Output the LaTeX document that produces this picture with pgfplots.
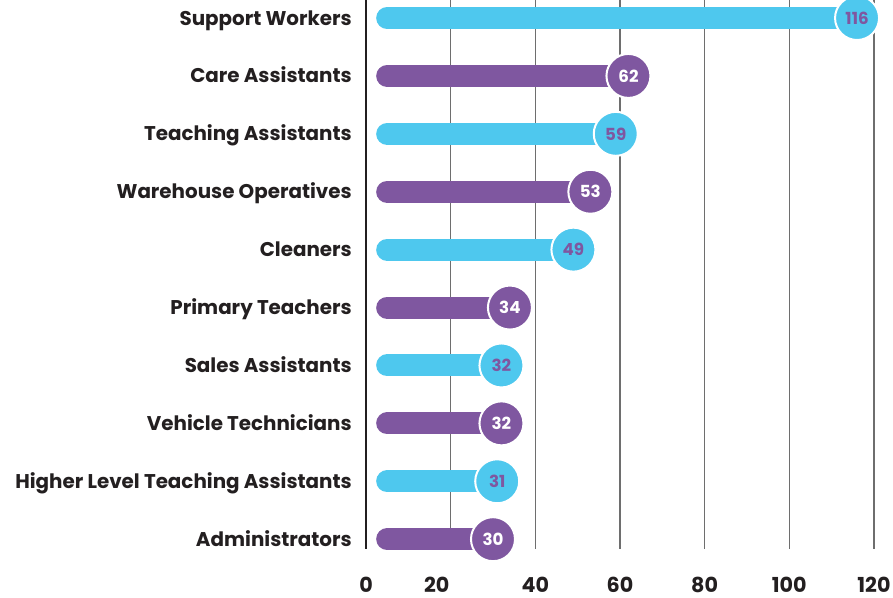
\documentclass[border=0pt]{standalone}
\usepackage{fontspec}
\setmainfont{Poppins}
\usepackage{pgfplots}
\pgfplotsset{compat=1.18}
\usetikzlibrary{calc}
\definecolor{cy}{HTML}{4EC8EE}
\definecolor{pu}{HTML}{7F57A0}
\definecolor{tx}{HTML}{231F20}
\definecolor{gr}{HTML}{6E6E6E}

\begin{document}
\begin{tikzpicture}
\begin{axis}[
    scale only axis,
    width=381pt, height=411.75pt,
    xmin=0, xmax=120,
    ymin=-0.311, ymax=9.17,
    y dir=reverse,
    clip=false,
    /pgf/number format/assume math mode=true,
    axis line style={draw=none},
    major tick length=0,
    xtick={0,20,...,120},
    xticklabels={,\hspace*{-21pt}20,40,60,80,100,120},
    extra x ticks={0},
    extra x tick labels={0},
    extra x tick style={grid style={tx, line width=0.9pt}},
    xmajorgrids,
    grid style={gr, line width=0.8pt},
    xticklabel style={font=\fontsize{15.5}{16}\selectfont\bfseries, text=tx,
        anchor=north, inner sep=0pt, text depth=0pt, yshift=-20.5pt},
    ytick={0,...,9},
    yticklabels={Support Workers, Care Assistants, Teaching Assistants,
        Warehouse Operatives, Cleaners, Primary Teachers, Sales Assistants,
        Vehicle Technicians, Higher Level Teaching Assistants, Administrators},
    yticklabel style={font=\fontsize{14.9}{15}\selectfont\bfseries, text=tx,
        anchor=mid east, inner sep=0pt, xshift=-10.5pt, yshift=-2.5pt},
]
\coordinate (tl) at (axis cs:0,-0.311);

% bars (rounded)
\addplot[cy, line width=16.5pt, line cap=round] coordinates {(5,0) (116,0)};
\addplot[pu, line width=16.5pt, line cap=round] coordinates {(5,1) (62,1)};
\addplot[cy, line width=16.5pt, line cap=round] coordinates {(5,2) (59,2)};
\addplot[pu, line width=16.5pt, line cap=round] coordinates {(5,3) (53,3)};
\addplot[cy, line width=16.5pt, line cap=round] coordinates {(5,4) (49,4)};
\addplot[pu, line width=16.5pt, line cap=round] coordinates {(5,5) (34,5)};
\addplot[cy, line width=16.5pt, line cap=round] coordinates {(5,6) (32,6)};
\addplot[pu, line width=16.5pt, line cap=round] coordinates {(5,7) (32,7)};
\addplot[cy, line width=16.5pt, line cap=round] coordinates {(5,8) (31,8)};
\addplot[pu, line width=16.5pt, line cap=round] coordinates {(5,9) (30,9)};

% end circles with values
\addplot[only marks, mark=*, mark size=16.5pt,
    mark options={fill=cy, draw=white, line width=1.5pt},
    point meta=x, nodes near coords,
    nodes near coords style={anchor=center, text=pu,
        font=\fontsize{12.5}{12.5}\selectfont\bfseries}]
    coordinates {(116,0) (59,2) (49,4) (32,6) (31,8)};
\addplot[only marks, mark=*, mark size=16.5pt,
    mark options={fill=pu, draw=white, line width=1.5pt},
    point meta=x, nodes near coords,
    nodes near coords style={anchor=center, text=white,
        font=\fontsize{12.5}{12.5}\selectfont\bfseries}]
    coordinates {(62,1) (53,3) (34,5) (32,7) (30,9)};
\end{axis}
\pgfresetboundingbox
\path[use as bounding box] ($(tl)+(-274.5pt,0)$) rectangle ($(tl)+(395.25pt,-447.75pt)$);
\end{tikzpicture}
\end{document}
